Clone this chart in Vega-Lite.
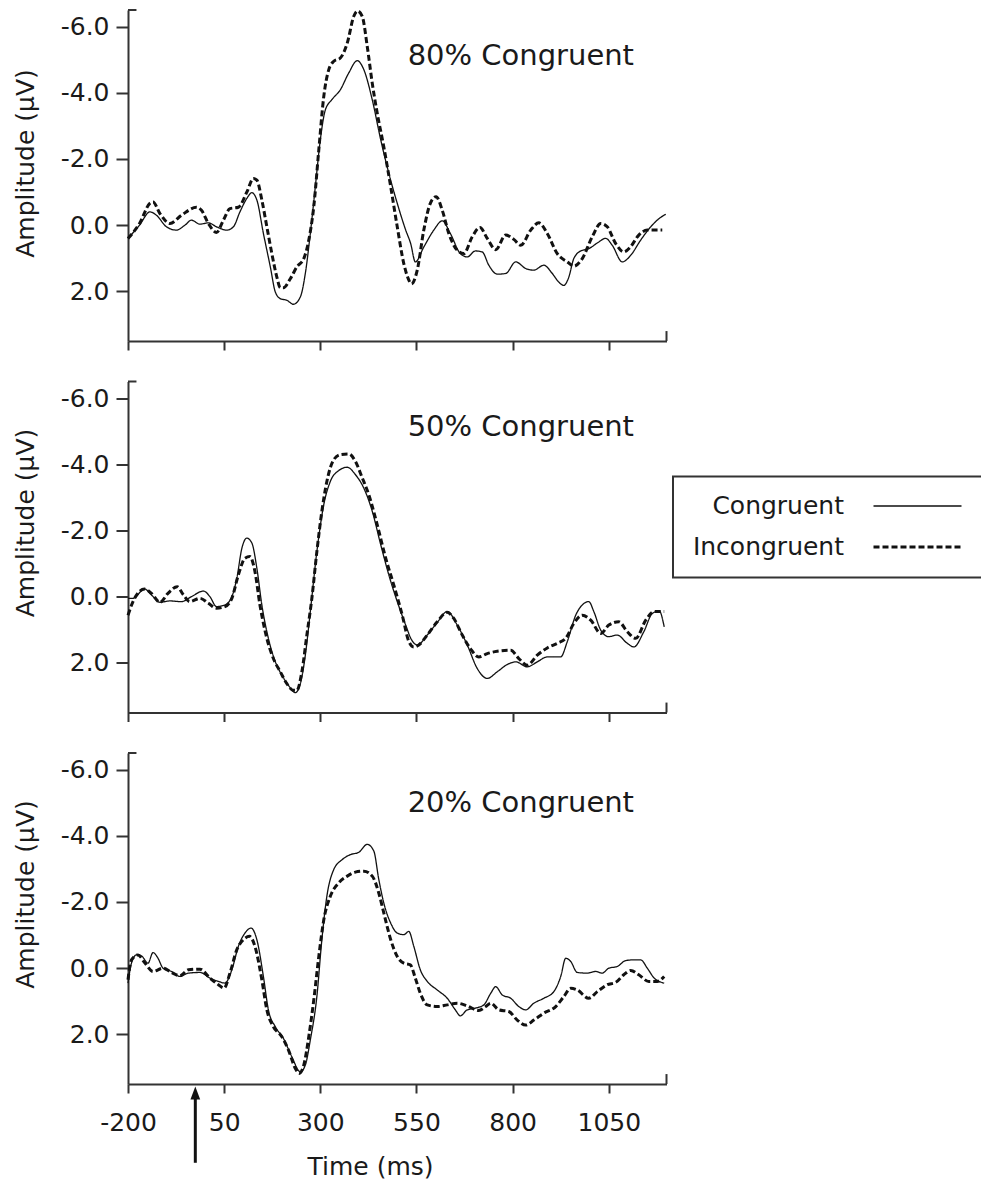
{
  "$schema": "https://vega.github.io/schema/vega-lite/v6.json",
  "padding": {"left": 13, "top": 4, "right": 2, "bottom": 4},
  "config": {
    "font": "DejaVu Sans",
    "view": {"stroke": null},
    "axis": {
      "grid": false,
      "domainColor": "#333",
      "domainWidth": 2,
      "tickColor": "#333",
      "tickWidth": 2,
      "labelFont": "DejaVu Sans",
      "labelFontSize": 25,
      "labelColor": "#1a1a1a",
      "labelFlush": false,
      "labelOverlap": false,
      "titleFont": "DejaVu Sans",
      "titleFontSize": 25,
      "titleFontWeight": "normal",
      "titleColor": "#1a1a1a"
    },
    "axisX": {"tickSize": 9, "labelPadding": 17, "titlePadding": 19},
    "axisY": {"tickSize": 12, "labelPadding": 7, "titlePadding": 22}
  },
  "data": {
    "values": [
      {"panel": "80%", "cond": "Incongruent", "t": -200, "v": 0.4},
      {"panel": "80%", "cond": "Incongruent", "t": -170, "v": -0.05},
      {"panel": "80%", "cond": "Incongruent", "t": -143, "v": -0.66},
      {"panel": "80%", "cond": "Incongruent", "t": -135, "v": -0.7},
      {"panel": "80%", "cond": "Incongruent", "t": -117, "v": -0.35},
      {"panel": "80%", "cond": "Incongruent", "t": -91, "v": -0.05},
      {"panel": "80%", "cond": "Incongruent", "t": -61, "v": -0.3},
      {"panel": "80%", "cond": "Incongruent", "t": -22, "v": -0.54},
      {"panel": "80%", "cond": "Incongruent", "t": -9, "v": -0.45},
      {"panel": "80%", "cond": "Incongruent", "t": 9, "v": -0.05},
      {"panel": "80%", "cond": "Incongruent", "t": 30, "v": 0.22},
      {"panel": "80%", "cond": "Incongruent", "t": 48, "v": -0.15},
      {"panel": "80%", "cond": "Incongruent", "t": 65, "v": -0.5},
      {"panel": "80%", "cond": "Incongruent", "t": 87, "v": -0.54},
      {"panel": "80%", "cond": "Incongruent", "t": 109, "v": -1.0},
      {"panel": "80%", "cond": "Incongruent", "t": 126, "v": -1.41},
      {"panel": "80%", "cond": "Incongruent", "t": 135, "v": -1.36},
      {"panel": "80%", "cond": "Incongruent", "t": 148, "v": -0.76},
      {"panel": "80%", "cond": "Incongruent", "t": 161, "v": 0.05},
      {"panel": "80%", "cond": "Incongruent", "t": 174, "v": 0.86},
      {"panel": "80%", "cond": "Incongruent", "t": 187, "v": 1.57},
      {"panel": "80%", "cond": "Incongruent", "t": 196, "v": 1.89},
      {"panel": "80%", "cond": "Incongruent", "t": 204, "v": 1.89},
      {"panel": "80%", "cond": "Incongruent", "t": 222, "v": 1.62},
      {"panel": "80%", "cond": "Incongruent", "t": 239, "v": 1.26},
      {"panel": "80%", "cond": "Incongruent", "t": 257, "v": 1.01},
      {"panel": "80%", "cond": "Incongruent", "t": 270, "v": 0.45},
      {"panel": "80%", "cond": "Incongruent", "t": 283, "v": -0.56},
      {"panel": "80%", "cond": "Incongruent", "t": 296, "v": -2.27},
      {"panel": "80%", "cond": "Incongruent", "t": 309, "v": -3.89},
      {"panel": "80%", "cond": "Incongruent", "t": 322, "v": -4.7},
      {"panel": "80%", "cond": "Incongruent", "t": 335, "v": -4.95},
      {"panel": "80%", "cond": "Incongruent", "t": 352, "v": -5.05},
      {"panel": "80%", "cond": "Incongruent", "t": 370, "v": -5.5},
      {"panel": "80%", "cond": "Incongruent", "t": 387, "v": -6.31},
      {"panel": "80%", "cond": "Incongruent", "t": 397, "v": -6.47},
      {"panel": "80%", "cond": "Incongruent", "t": 409, "v": -6.31},
      {"panel": "80%", "cond": "Incongruent", "t": 422, "v": -5.4},
      {"panel": "80%", "cond": "Incongruent", "t": 435, "v": -4.29},
      {"panel": "80%", "cond": "Incongruent", "t": 448, "v": -3.38},
      {"panel": "80%", "cond": "Incongruent", "t": 465, "v": -2.37},
      {"panel": "80%", "cond": "Incongruent", "t": 483, "v": -1.16},
      {"panel": "80%", "cond": "Incongruent", "t": 500, "v": 0.05},
      {"panel": "80%", "cond": "Incongruent", "t": 517, "v": 1.16},
      {"panel": "80%", "cond": "Incongruent", "t": 528, "v": 1.6},
      {"panel": "80%", "cond": "Incongruent", "t": 537, "v": 1.77},
      {"panel": "80%", "cond": "Incongruent", "t": 552, "v": 1.36},
      {"panel": "80%", "cond": "Incongruent", "t": 569, "v": 0.15},
      {"panel": "80%", "cond": "Incongruent", "t": 586, "v": -0.66},
      {"panel": "80%", "cond": "Incongruent", "t": 601, "v": -0.86},
      {"panel": "80%", "cond": "Incongruent", "t": 617, "v": -0.45},
      {"panel": "80%", "cond": "Incongruent", "t": 634, "v": 0.25},
      {"panel": "80%", "cond": "Incongruent", "t": 656, "v": 0.76},
      {"panel": "80%", "cond": "Incongruent", "t": 673, "v": 0.86},
      {"panel": "80%", "cond": "Incongruent", "t": 695, "v": 0.35},
      {"panel": "80%", "cond": "Incongruent", "t": 715, "v": 0.07},
      {"panel": "80%", "cond": "Incongruent", "t": 734, "v": 0.4},
      {"panel": "80%", "cond": "Incongruent", "t": 756, "v": 0.74},
      {"panel": "80%", "cond": "Incongruent", "t": 782, "v": 0.3},
      {"panel": "80%", "cond": "Incongruent", "t": 803, "v": 0.43},
      {"panel": "80%", "cond": "Incongruent", "t": 821, "v": 0.61},
      {"panel": "80%", "cond": "Incongruent", "t": 847, "v": 0.15},
      {"panel": "80%", "cond": "Incongruent", "t": 868, "v": -0.07},
      {"panel": "80%", "cond": "Incongruent", "t": 890, "v": 0.25},
      {"panel": "80%", "cond": "Incongruent", "t": 916, "v": 0.86},
      {"panel": "80%", "cond": "Incongruent", "t": 942, "v": 1.11},
      {"panel": "80%", "cond": "Incongruent", "t": 959, "v": 1.24},
      {"panel": "80%", "cond": "Incongruent", "t": 981, "v": 1.01},
      {"panel": "80%", "cond": "Incongruent", "t": 1007, "v": 0.35},
      {"panel": "80%", "cond": "Incongruent", "t": 1029, "v": -0.05},
      {"panel": "80%", "cond": "Incongruent", "t": 1046, "v": 0.05},
      {"panel": "80%", "cond": "Incongruent", "t": 1068, "v": 0.56},
      {"panel": "80%", "cond": "Incongruent", "t": 1089, "v": 0.81},
      {"panel": "80%", "cond": "Incongruent", "t": 1106, "v": 0.66},
      {"panel": "80%", "cond": "Incongruent", "t": 1128, "v": 0.3},
      {"panel": "80%", "cond": "Incongruent", "t": 1150, "v": 0.15},
      {"panel": "80%", "cond": "Incongruent", "t": 1172, "v": 0.15},
      {"panel": "80%", "cond": "Incongruent", "t": 1189, "v": 0.15},
      {"panel": "80%", "cond": "Congruent", "t": -200, "v": 0.4},
      {"panel": "80%", "cond": "Congruent", "t": -170, "v": 0},
      {"panel": "80%", "cond": "Congruent", "t": -143, "v": -0.4},
      {"panel": "80%", "cond": "Congruent", "t": -126, "v": -0.3},
      {"panel": "80%", "cond": "Congruent", "t": -100, "v": 0.05},
      {"panel": "80%", "cond": "Congruent", "t": -74, "v": 0.15},
      {"panel": "80%", "cond": "Congruent", "t": -52, "v": 0},
      {"panel": "80%", "cond": "Congruent", "t": -35, "v": -0.15},
      {"panel": "80%", "cond": "Congruent", "t": -13, "v": -0.03},
      {"panel": "80%", "cond": "Congruent", "t": 9, "v": -0.07},
      {"panel": "80%", "cond": "Congruent", "t": 30, "v": 0.05},
      {"panel": "80%", "cond": "Congruent", "t": 57, "v": 0.15},
      {"panel": "80%", "cond": "Congruent", "t": 74, "v": 0.05},
      {"panel": "80%", "cond": "Congruent", "t": 91, "v": -0.4},
      {"panel": "80%", "cond": "Congruent", "t": 109, "v": -0.81},
      {"panel": "80%", "cond": "Congruent", "t": 122, "v": -0.98},
      {"panel": "80%", "cond": "Congruent", "t": 135, "v": -0.76},
      {"panel": "80%", "cond": "Congruent", "t": 152, "v": 0.25},
      {"panel": "80%", "cond": "Congruent", "t": 170, "v": 1.26},
      {"panel": "80%", "cond": "Congruent", "t": 183, "v": 2.02},
      {"panel": "80%", "cond": "Congruent", "t": 196, "v": 2.22},
      {"panel": "80%", "cond": "Congruent", "t": 213, "v": 2.27},
      {"panel": "80%", "cond": "Congruent", "t": 230, "v": 2.39},
      {"panel": "80%", "cond": "Congruent", "t": 248, "v": 2.17},
      {"panel": "80%", "cond": "Congruent", "t": 261, "v": 1.46},
      {"panel": "80%", "cond": "Congruent", "t": 274, "v": 0.25},
      {"panel": "80%", "cond": "Congruent", "t": 287, "v": -1.16},
      {"panel": "80%", "cond": "Congruent", "t": 300, "v": -2.58},
      {"panel": "80%", "cond": "Congruent", "t": 313, "v": -3.48},
      {"panel": "80%", "cond": "Congruent", "t": 330, "v": -3.79},
      {"panel": "80%", "cond": "Congruent", "t": 352, "v": -4.09},
      {"panel": "80%", "cond": "Congruent", "t": 374, "v": -4.6},
      {"panel": "80%", "cond": "Congruent", "t": 396, "v": -4.97},
      {"panel": "80%", "cond": "Congruent", "t": 413, "v": -4.7},
      {"panel": "80%", "cond": "Congruent", "t": 435, "v": -3.79},
      {"panel": "80%", "cond": "Congruent", "t": 457, "v": -2.58},
      {"panel": "80%", "cond": "Congruent", "t": 478, "v": -1.57},
      {"panel": "80%", "cond": "Congruent", "t": 500, "v": -0.66},
      {"panel": "80%", "cond": "Congruent", "t": 522, "v": 0.15},
      {"panel": "80%", "cond": "Congruent", "t": 535, "v": 0.56},
      {"panel": "80%", "cond": "Congruent", "t": 547, "v": 1.11},
      {"panel": "80%", "cond": "Congruent", "t": 569, "v": 0.66},
      {"panel": "80%", "cond": "Congruent", "t": 595, "v": 0.15},
      {"panel": "80%", "cond": "Congruent", "t": 617, "v": -0.13},
      {"panel": "80%", "cond": "Congruent", "t": 638, "v": 0.25},
      {"panel": "80%", "cond": "Congruent", "t": 664, "v": 0.86},
      {"panel": "80%", "cond": "Congruent", "t": 682, "v": 0.96},
      {"panel": "80%", "cond": "Congruent", "t": 703, "v": 0.78},
      {"panel": "80%", "cond": "Congruent", "t": 721, "v": 0.81},
      {"panel": "80%", "cond": "Congruent", "t": 738, "v": 1.21},
      {"panel": "80%", "cond": "Congruent", "t": 760, "v": 1.48},
      {"panel": "80%", "cond": "Congruent", "t": 782, "v": 1.46},
      {"panel": "80%", "cond": "Congruent", "t": 808, "v": 1.11},
      {"panel": "80%", "cond": "Congruent", "t": 834, "v": 1.31},
      {"panel": "80%", "cond": "Congruent", "t": 855, "v": 1.36},
      {"panel": "80%", "cond": "Congruent", "t": 881, "v": 1.21},
      {"panel": "80%", "cond": "Congruent", "t": 903, "v": 1.46},
      {"panel": "80%", "cond": "Congruent", "t": 920, "v": 1.72},
      {"panel": "80%", "cond": "Congruent", "t": 933, "v": 1.82},
      {"panel": "80%", "cond": "Congruent", "t": 946, "v": 1.57},
      {"panel": "80%", "cond": "Congruent", "t": 959, "v": 1.01},
      {"panel": "80%", "cond": "Congruent", "t": 977, "v": 0.78},
      {"panel": "80%", "cond": "Congruent", "t": 998, "v": 0.71},
      {"panel": "80%", "cond": "Congruent", "t": 1020, "v": 0.54},
      {"panel": "80%", "cond": "Congruent", "t": 1042, "v": 0.4},
      {"panel": "80%", "cond": "Congruent", "t": 1059, "v": 0.61},
      {"panel": "80%", "cond": "Congruent", "t": 1085, "v": 1.11},
      {"panel": "80%", "cond": "Congruent", "t": 1107, "v": 0.91},
      {"panel": "80%", "cond": "Congruent", "t": 1133, "v": 0.45},
      {"panel": "80%", "cond": "Congruent", "t": 1159, "v": 0.05},
      {"panel": "80%", "cond": "Congruent", "t": 1181, "v": -0.2},
      {"panel": "80%", "cond": "Congruent", "t": 1198, "v": -0.33},
      {"panel": "50%", "cond": "Incongruent", "t": -200, "v": 0.56},
      {"panel": "50%", "cond": "Incongruent", "t": -187, "v": 0.15},
      {"panel": "50%", "cond": "Incongruent", "t": -157, "v": -0.23},
      {"panel": "50%", "cond": "Incongruent", "t": -139, "v": -0.1},
      {"panel": "50%", "cond": "Incongruent", "t": -117, "v": 0.17},
      {"panel": "50%", "cond": "Incongruent", "t": -96, "v": -0.1},
      {"panel": "50%", "cond": "Incongruent", "t": -72, "v": -0.3},
      {"panel": "50%", "cond": "Incongruent", "t": -57, "v": -0.07},
      {"panel": "50%", "cond": "Incongruent", "t": -39, "v": 0.15},
      {"panel": "50%", "cond": "Incongruent", "t": -13, "v": 0.05},
      {"panel": "50%", "cond": "Incongruent", "t": 9, "v": 0.2},
      {"panel": "50%", "cond": "Incongruent", "t": 30, "v": 0.35},
      {"panel": "50%", "cond": "Incongruent", "t": 52, "v": 0.3},
      {"panel": "50%", "cond": "Incongruent", "t": 70, "v": 0.05},
      {"panel": "50%", "cond": "Incongruent", "t": 87, "v": -0.66},
      {"panel": "50%", "cond": "Incongruent", "t": 104, "v": -1.16},
      {"panel": "50%", "cond": "Incongruent", "t": 117, "v": -1.21},
      {"panel": "50%", "cond": "Incongruent", "t": 130, "v": -0.76},
      {"panel": "50%", "cond": "Incongruent", "t": 143, "v": 0.25},
      {"panel": "50%", "cond": "Incongruent", "t": 161, "v": 1.26},
      {"panel": "50%", "cond": "Incongruent", "t": 178, "v": 1.87},
      {"panel": "50%", "cond": "Incongruent", "t": 196, "v": 2.27},
      {"panel": "50%", "cond": "Incongruent", "t": 213, "v": 2.63},
      {"panel": "50%", "cond": "Incongruent", "t": 230, "v": 2.83},
      {"panel": "50%", "cond": "Incongruent", "t": 239, "v": 2.83},
      {"panel": "50%", "cond": "Incongruent", "t": 252, "v": 2.27},
      {"panel": "50%", "cond": "Incongruent", "t": 265, "v": 1.16},
      {"panel": "50%", "cond": "Incongruent", "t": 278, "v": 0.05},
      {"panel": "50%", "cond": "Incongruent", "t": 291, "v": -1.36},
      {"panel": "50%", "cond": "Incongruent", "t": 304, "v": -2.58},
      {"panel": "50%", "cond": "Incongruent", "t": 317, "v": -3.48},
      {"panel": "50%", "cond": "Incongruent", "t": 335, "v": -4.14},
      {"panel": "50%", "cond": "Incongruent", "t": 352, "v": -4.29},
      {"panel": "50%", "cond": "Incongruent", "t": 374, "v": -4.31},
      {"panel": "50%", "cond": "Incongruent", "t": 391, "v": -4.09},
      {"panel": "50%", "cond": "Incongruent", "t": 409, "v": -3.59},
      {"panel": "50%", "cond": "Incongruent", "t": 426, "v": -3.08},
      {"panel": "50%", "cond": "Incongruent", "t": 448, "v": -2.17},
      {"panel": "50%", "cond": "Incongruent", "t": 470, "v": -1.16},
      {"panel": "50%", "cond": "Incongruent", "t": 491, "v": -0.35},
      {"panel": "50%", "cond": "Incongruent", "t": 513, "v": 0.56},
      {"panel": "50%", "cond": "Incongruent", "t": 530, "v": 1.35},
      {"panel": "50%", "cond": "Incongruent", "t": 543, "v": 1.52},
      {"panel": "50%", "cond": "Incongruent", "t": 556, "v": 1.46},
      {"panel": "50%", "cond": "Incongruent", "t": 578, "v": 1.16},
      {"panel": "50%", "cond": "Incongruent", "t": 604, "v": 0.76},
      {"panel": "50%", "cond": "Incongruent", "t": 630, "v": 0.47},
      {"panel": "50%", "cond": "Incongruent", "t": 647, "v": 0.66},
      {"panel": "50%", "cond": "Incongruent", "t": 669, "v": 1.16},
      {"panel": "50%", "cond": "Incongruent", "t": 690, "v": 1.57},
      {"panel": "50%", "cond": "Incongruent", "t": 712, "v": 1.82},
      {"panel": "50%", "cond": "Incongruent", "t": 734, "v": 1.72},
      {"panel": "50%", "cond": "Incongruent", "t": 760, "v": 1.65},
      {"panel": "50%", "cond": "Incongruent", "t": 795, "v": 1.62},
      {"panel": "50%", "cond": "Incongruent", "t": 816, "v": 1.87},
      {"panel": "50%", "cond": "Incongruent", "t": 838, "v": 2.07},
      {"panel": "50%", "cond": "Incongruent", "t": 864, "v": 1.77},
      {"panel": "50%", "cond": "Incongruent", "t": 890, "v": 1.55},
      {"panel": "50%", "cond": "Incongruent", "t": 916, "v": 1.41},
      {"panel": "50%", "cond": "Incongruent", "t": 938, "v": 1.26},
      {"panel": "50%", "cond": "Incongruent", "t": 959, "v": 0.81},
      {"panel": "50%", "cond": "Incongruent", "t": 981, "v": 0.56},
      {"panel": "50%", "cond": "Incongruent", "t": 1003, "v": 0.71},
      {"panel": "50%", "cond": "Incongruent", "t": 1029, "v": 1.11},
      {"panel": "50%", "cond": "Incongruent", "t": 1050, "v": 0.86},
      {"panel": "50%", "cond": "Incongruent", "t": 1076, "v": 0.76},
      {"panel": "50%", "cond": "Incongruent", "t": 1098, "v": 1.06},
      {"panel": "50%", "cond": "Incongruent", "t": 1120, "v": 1.26},
      {"panel": "50%", "cond": "Incongruent", "t": 1146, "v": 0.71},
      {"panel": "50%", "cond": "Incongruent", "t": 1168, "v": 0.45},
      {"panel": "50%", "cond": "Incongruent", "t": 1194, "v": 0.45},
      {"panel": "50%", "cond": "Congruent", "t": -200, "v": 0.05},
      {"panel": "50%", "cond": "Congruent", "t": -187, "v": 0.05},
      {"panel": "50%", "cond": "Congruent", "t": -157, "v": -0.23},
      {"panel": "50%", "cond": "Congruent", "t": -139, "v": -0.05},
      {"panel": "50%", "cond": "Congruent", "t": -117, "v": 0.17},
      {"panel": "50%", "cond": "Congruent", "t": -91, "v": 0.13},
      {"panel": "50%", "cond": "Congruent", "t": -61, "v": 0.15},
      {"panel": "50%", "cond": "Congruent", "t": -35, "v": 0},
      {"panel": "50%", "cond": "Congruent", "t": -4, "v": -0.17},
      {"panel": "50%", "cond": "Congruent", "t": 13, "v": 0},
      {"panel": "50%", "cond": "Congruent", "t": 30, "v": 0.3},
      {"panel": "50%", "cond": "Congruent", "t": 52, "v": 0.25},
      {"panel": "50%", "cond": "Congruent", "t": 70, "v": 0},
      {"panel": "50%", "cond": "Congruent", "t": 83, "v": -0.56},
      {"panel": "50%", "cond": "Congruent", "t": 96, "v": -1.46},
      {"panel": "50%", "cond": "Congruent", "t": 109, "v": -1.77},
      {"panel": "50%", "cond": "Congruent", "t": 122, "v": -1.62},
      {"panel": "50%", "cond": "Congruent", "t": 135, "v": -0.86},
      {"panel": "50%", "cond": "Congruent", "t": 148, "v": 0.25},
      {"panel": "50%", "cond": "Congruent", "t": 165, "v": 1.26},
      {"panel": "50%", "cond": "Congruent", "t": 183, "v": 1.97},
      {"panel": "50%", "cond": "Congruent", "t": 200, "v": 2.37},
      {"panel": "50%", "cond": "Congruent", "t": 217, "v": 2.68},
      {"panel": "50%", "cond": "Congruent", "t": 235, "v": 2.9},
      {"panel": "50%", "cond": "Congruent", "t": 248, "v": 2.63},
      {"panel": "50%", "cond": "Congruent", "t": 261, "v": 1.77},
      {"panel": "50%", "cond": "Congruent", "t": 274, "v": 0.45},
      {"panel": "50%", "cond": "Congruent", "t": 291, "v": -1.36},
      {"panel": "50%", "cond": "Congruent", "t": 309, "v": -2.78},
      {"panel": "50%", "cond": "Congruent", "t": 326, "v": -3.48},
      {"panel": "50%", "cond": "Congruent", "t": 348, "v": -3.81},
      {"panel": "50%", "cond": "Congruent", "t": 370, "v": -3.91},
      {"panel": "50%", "cond": "Congruent", "t": 391, "v": -3.69},
      {"panel": "50%", "cond": "Congruent", "t": 413, "v": -3.28},
      {"panel": "50%", "cond": "Congruent", "t": 435, "v": -2.58},
      {"panel": "50%", "cond": "Congruent", "t": 457, "v": -1.57},
      {"panel": "50%", "cond": "Congruent", "t": 478, "v": -0.66},
      {"panel": "50%", "cond": "Congruent", "t": 500, "v": 0.15},
      {"panel": "50%", "cond": "Congruent", "t": 522, "v": 0.86},
      {"panel": "50%", "cond": "Congruent", "t": 537, "v": 1.3},
      {"panel": "50%", "cond": "Congruent", "t": 552, "v": 1.46},
      {"panel": "50%", "cond": "Congruent", "t": 578, "v": 1.16},
      {"panel": "50%", "cond": "Congruent", "t": 604, "v": 0.78},
      {"panel": "50%", "cond": "Congruent", "t": 630, "v": 0.45},
      {"panel": "50%", "cond": "Congruent", "t": 656, "v": 0.86},
      {"panel": "50%", "cond": "Congruent", "t": 682, "v": 1.46},
      {"panel": "50%", "cond": "Congruent", "t": 708, "v": 2.17},
      {"panel": "50%", "cond": "Congruent", "t": 734, "v": 2.47},
      {"panel": "50%", "cond": "Congruent", "t": 760, "v": 2.27},
      {"panel": "50%", "cond": "Congruent", "t": 786, "v": 2.05},
      {"panel": "50%", "cond": "Congruent", "t": 808, "v": 1.97},
      {"panel": "50%", "cond": "Congruent", "t": 838, "v": 2.12},
      {"panel": "50%", "cond": "Congruent", "t": 864, "v": 1.97},
      {"panel": "50%", "cond": "Congruent", "t": 890, "v": 1.82},
      {"panel": "50%", "cond": "Congruent", "t": 925, "v": 1.82},
      {"panel": "50%", "cond": "Congruent", "t": 942, "v": 1.36},
      {"panel": "50%", "cond": "Congruent", "t": 964, "v": 0.56},
      {"panel": "50%", "cond": "Congruent", "t": 981, "v": 0.25},
      {"panel": "50%", "cond": "Congruent", "t": 998, "v": 0.15},
      {"panel": "50%", "cond": "Congruent", "t": 1011, "v": 0.45},
      {"panel": "50%", "cond": "Congruent", "t": 1029, "v": 1.01},
      {"panel": "50%", "cond": "Congruent", "t": 1050, "v": 1.21},
      {"panel": "50%", "cond": "Congruent", "t": 1072, "v": 1.16},
      {"panel": "50%", "cond": "Congruent", "t": 1098, "v": 1.41},
      {"panel": "50%", "cond": "Congruent", "t": 1115, "v": 1.52},
      {"panel": "50%", "cond": "Congruent", "t": 1141, "v": 1.06},
      {"panel": "50%", "cond": "Congruent", "t": 1163, "v": 0.51},
      {"panel": "50%", "cond": "Congruent", "t": 1181, "v": 0.43},
      {"panel": "50%", "cond": "Congruent", "t": 1194, "v": 0.91},
      {"panel": "20%", "cond": "Incongruent", "t": -200, "v": 0.35},
      {"panel": "20%", "cond": "Incongruent", "t": -191, "v": -0.25},
      {"panel": "20%", "cond": "Incongruent", "t": -174, "v": -0.4},
      {"panel": "20%", "cond": "Incongruent", "t": -157, "v": -0.17},
      {"panel": "20%", "cond": "Incongruent", "t": -135, "v": 0.1},
      {"panel": "20%", "cond": "Incongruent", "t": -109, "v": 0},
      {"panel": "20%", "cond": "Incongruent", "t": -87, "v": 0.13},
      {"panel": "20%", "cond": "Incongruent", "t": -65, "v": 0.23},
      {"panel": "20%", "cond": "Incongruent", "t": -43, "v": 0.05},
      {"panel": "20%", "cond": "Incongruent", "t": -13, "v": 0.03},
      {"panel": "20%", "cond": "Incongruent", "t": 13, "v": 0.3},
      {"panel": "20%", "cond": "Incongruent", "t": 35, "v": 0.5},
      {"panel": "20%", "cond": "Incongruent", "t": 50, "v": 0.6},
      {"panel": "20%", "cond": "Incongruent", "t": 65, "v": 0.15},
      {"panel": "20%", "cond": "Incongruent", "t": 83, "v": -0.56},
      {"panel": "20%", "cond": "Incongruent", "t": 100, "v": -0.86},
      {"panel": "20%", "cond": "Incongruent", "t": 116, "v": -0.96},
      {"panel": "20%", "cond": "Incongruent", "t": 130, "v": -0.66},
      {"panel": "20%", "cond": "Incongruent", "t": 148, "v": 0.35},
      {"panel": "20%", "cond": "Incongruent", "t": 161, "v": 1.26},
      {"panel": "20%", "cond": "Incongruent", "t": 178, "v": 1.77},
      {"panel": "20%", "cond": "Incongruent", "t": 200, "v": 2.07},
      {"panel": "20%", "cond": "Incongruent", "t": 217, "v": 2.47},
      {"panel": "20%", "cond": "Incongruent", "t": 235, "v": 3.03},
      {"panel": "20%", "cond": "Incongruent", "t": 245, "v": 3.18},
      {"panel": "20%", "cond": "Incongruent", "t": 257, "v": 2.93},
      {"panel": "20%", "cond": "Incongruent", "t": 270, "v": 2.07},
      {"panel": "20%", "cond": "Incongruent", "t": 283, "v": 0.96},
      {"panel": "20%", "cond": "Incongruent", "t": 296, "v": -0.35},
      {"panel": "20%", "cond": "Incongruent", "t": 309, "v": -1.46},
      {"panel": "20%", "cond": "Incongruent", "t": 326, "v": -2.17},
      {"panel": "20%", "cond": "Incongruent", "t": 348, "v": -2.58},
      {"panel": "20%", "cond": "Incongruent", "t": 370, "v": -2.78},
      {"panel": "20%", "cond": "Incongruent", "t": 391, "v": -2.9},
      {"panel": "20%", "cond": "Incongruent", "t": 413, "v": -2.93},
      {"panel": "20%", "cond": "Incongruent", "t": 435, "v": -2.78},
      {"panel": "20%", "cond": "Incongruent", "t": 452, "v": -2.27},
      {"panel": "20%", "cond": "Incongruent", "t": 465, "v": -1.67},
      {"panel": "20%", "cond": "Incongruent", "t": 483, "v": -0.86},
      {"panel": "20%", "cond": "Incongruent", "t": 500, "v": -0.35},
      {"panel": "20%", "cond": "Incongruent", "t": 517, "v": -0.15},
      {"panel": "20%", "cond": "Incongruent", "t": 534, "v": -0.1},
      {"panel": "20%", "cond": "Incongruent", "t": 547, "v": 0.3},
      {"panel": "20%", "cond": "Incongruent", "t": 560, "v": 0.76},
      {"panel": "20%", "cond": "Incongruent", "t": 578, "v": 1.11},
      {"panel": "20%", "cond": "Incongruent", "t": 604, "v": 1.16},
      {"panel": "20%", "cond": "Incongruent", "t": 630, "v": 1.11},
      {"panel": "20%", "cond": "Incongruent", "t": 656, "v": 1.06},
      {"panel": "20%", "cond": "Incongruent", "t": 682, "v": 1.14},
      {"panel": "20%", "cond": "Incongruent", "t": 712, "v": 1.28},
      {"panel": "20%", "cond": "Incongruent", "t": 730, "v": 1.16},
      {"panel": "20%", "cond": "Incongruent", "t": 743, "v": 1.06},
      {"panel": "20%", "cond": "Incongruent", "t": 764, "v": 1.26},
      {"panel": "20%", "cond": "Incongruent", "t": 790, "v": 1.31},
      {"panel": "20%", "cond": "Incongruent", "t": 812, "v": 1.57},
      {"panel": "20%", "cond": "Incongruent", "t": 834, "v": 1.72},
      {"panel": "20%", "cond": "Incongruent", "t": 855, "v": 1.57},
      {"panel": "20%", "cond": "Incongruent", "t": 881, "v": 1.36},
      {"panel": "20%", "cond": "Incongruent", "t": 912, "v": 1.16},
      {"panel": "20%", "cond": "Incongruent", "t": 933, "v": 0.86},
      {"panel": "20%", "cond": "Incongruent", "t": 951, "v": 0.61},
      {"panel": "20%", "cond": "Incongruent", "t": 968, "v": 0.66},
      {"panel": "20%", "cond": "Incongruent", "t": 998, "v": 0.91},
      {"panel": "20%", "cond": "Incongruent", "t": 1020, "v": 0.71},
      {"panel": "20%", "cond": "Incongruent", "t": 1046, "v": 0.5},
      {"panel": "20%", "cond": "Incongruent", "t": 1068, "v": 0.43},
      {"panel": "20%", "cond": "Incongruent", "t": 1089, "v": 0.2},
      {"panel": "20%", "cond": "Incongruent", "t": 1107, "v": 0.07},
      {"panel": "20%", "cond": "Incongruent", "t": 1128, "v": 0.2},
      {"panel": "20%", "cond": "Incongruent", "t": 1154, "v": 0.4},
      {"panel": "20%", "cond": "Incongruent", "t": 1176, "v": 0.4},
      {"panel": "20%", "cond": "Incongruent", "t": 1194, "v": 0.25},
      {"panel": "20%", "cond": "Congruent", "t": -200, "v": 0.45},
      {"panel": "20%", "cond": "Congruent", "t": -191, "v": -0.15},
      {"panel": "20%", "cond": "Congruent", "t": -178, "v": -0.4},
      {"panel": "20%", "cond": "Congruent", "t": -165, "v": -0.37},
      {"panel": "20%", "cond": "Congruent", "t": -148, "v": -0.15},
      {"panel": "20%", "cond": "Congruent", "t": -135, "v": -0.47},
      {"panel": "20%", "cond": "Congruent", "t": -122, "v": -0.3},
      {"panel": "20%", "cond": "Congruent", "t": -109, "v": 0},
      {"panel": "20%", "cond": "Congruent", "t": -87, "v": 0.1},
      {"panel": "20%", "cond": "Congruent", "t": -65, "v": 0.25},
      {"panel": "20%", "cond": "Congruent", "t": -43, "v": 0.15},
      {"panel": "20%", "cond": "Congruent", "t": -13, "v": 0.13},
      {"panel": "20%", "cond": "Congruent", "t": 13, "v": 0.3},
      {"panel": "20%", "cond": "Congruent", "t": 35, "v": 0.4},
      {"panel": "20%", "cond": "Congruent", "t": 52, "v": 0.45},
      {"panel": "20%", "cond": "Congruent", "t": 70, "v": 0.05},
      {"panel": "20%", "cond": "Congruent", "t": 87, "v": -0.66},
      {"panel": "20%", "cond": "Congruent", "t": 104, "v": -1.06},
      {"panel": "20%", "cond": "Congruent", "t": 120, "v": -1.21},
      {"panel": "20%", "cond": "Congruent", "t": 135, "v": -0.86},
      {"panel": "20%", "cond": "Congruent", "t": 152, "v": 0.25},
      {"panel": "20%", "cond": "Congruent", "t": 165, "v": 1.26},
      {"panel": "20%", "cond": "Congruent", "t": 183, "v": 1.77},
      {"panel": "20%", "cond": "Congruent", "t": 204, "v": 2.12},
      {"panel": "20%", "cond": "Congruent", "t": 226, "v": 2.68},
      {"panel": "20%", "cond": "Congruent", "t": 248, "v": 3.13},
      {"panel": "20%", "cond": "Congruent", "t": 261, "v": 2.93},
      {"panel": "20%", "cond": "Congruent", "t": 274, "v": 2.17},
      {"panel": "20%", "cond": "Congruent", "t": 291, "v": 0.86},
      {"panel": "20%", "cond": "Congruent", "t": 304, "v": -0.86},
      {"panel": "20%", "cond": "Congruent", "t": 317, "v": -2.17},
      {"panel": "20%", "cond": "Congruent", "t": 335, "v": -2.98},
      {"panel": "20%", "cond": "Congruent", "t": 357, "v": -3.28},
      {"panel": "20%", "cond": "Congruent", "t": 378, "v": -3.43},
      {"panel": "20%", "cond": "Congruent", "t": 400, "v": -3.5},
      {"panel": "20%", "cond": "Congruent", "t": 422, "v": -3.74},
      {"panel": "20%", "cond": "Congruent", "t": 439, "v": -3.54},
      {"panel": "20%", "cond": "Congruent", "t": 452, "v": -2.68},
      {"panel": "20%", "cond": "Congruent", "t": 465, "v": -1.97},
      {"panel": "20%", "cond": "Congruent", "t": 483, "v": -1.36},
      {"panel": "20%", "cond": "Congruent", "t": 500, "v": -1.06},
      {"panel": "20%", "cond": "Congruent", "t": 517, "v": -1.01},
      {"panel": "20%", "cond": "Congruent", "t": 530, "v": -1.11},
      {"panel": "20%", "cond": "Congruent", "t": 543, "v": -0.66},
      {"panel": "20%", "cond": "Congruent", "t": 560, "v": 0.05},
      {"panel": "20%", "cond": "Congruent", "t": 578, "v": 0.4},
      {"panel": "20%", "cond": "Congruent", "t": 604, "v": 0.66},
      {"panel": "20%", "cond": "Congruent", "t": 630, "v": 0.91},
      {"panel": "20%", "cond": "Congruent", "t": 651, "v": 1.26},
      {"panel": "20%", "cond": "Congruent", "t": 664, "v": 1.44},
      {"panel": "20%", "cond": "Congruent", "t": 682, "v": 1.26},
      {"panel": "20%", "cond": "Congruent", "t": 703, "v": 1.21},
      {"panel": "20%", "cond": "Congruent", "t": 725, "v": 1.11},
      {"panel": "20%", "cond": "Congruent", "t": 743, "v": 0.76},
      {"panel": "20%", "cond": "Congruent", "t": 756, "v": 0.56},
      {"panel": "20%", "cond": "Congruent", "t": 773, "v": 0.81},
      {"panel": "20%", "cond": "Congruent", "t": 795, "v": 0.91},
      {"panel": "20%", "cond": "Congruent", "t": 816, "v": 1.16},
      {"panel": "20%", "cond": "Congruent", "t": 834, "v": 1.26},
      {"panel": "20%", "cond": "Congruent", "t": 855, "v": 1.06},
      {"panel": "20%", "cond": "Congruent", "t": 881, "v": 0.91},
      {"panel": "20%", "cond": "Congruent", "t": 907, "v": 0.71},
      {"panel": "20%", "cond": "Congruent", "t": 925, "v": 0.25},
      {"panel": "20%", "cond": "Congruent", "t": 938, "v": -0.3},
      {"panel": "20%", "cond": "Congruent", "t": 951, "v": -0.2},
      {"panel": "20%", "cond": "Congruent", "t": 968, "v": 0.13},
      {"panel": "20%", "cond": "Congruent", "t": 994, "v": 0.15},
      {"panel": "20%", "cond": "Congruent", "t": 1016, "v": 0.1},
      {"panel": "20%", "cond": "Congruent", "t": 1033, "v": 0.15},
      {"panel": "20%", "cond": "Congruent", "t": 1050, "v": 0},
      {"panel": "20%", "cond": "Congruent", "t": 1072, "v": -0.05},
      {"panel": "20%", "cond": "Congruent", "t": 1094, "v": -0.23},
      {"panel": "20%", "cond": "Congruent", "t": 1115, "v": -0.25},
      {"panel": "20%", "cond": "Congruent", "t": 1133, "v": -0.25},
      {"panel": "20%", "cond": "Congruent", "t": 1150, "v": 0},
      {"panel": "20%", "cond": "Congruent", "t": 1168, "v": 0.3},
      {"panel": "20%", "cond": "Congruent", "t": 1194, "v": 0.45}
    ]
  },
  "spacing": 40.5,
  "bounds": "flush",
  "vconcat": [
    {
      "width": 538.5,
      "height": 331,
      "layer": [
        {
          "transform": [{"filter": "datum.panel === '80%'"}],
          "mark": {"type": "line", "interpolate": "monotone", "color": "#111"},
          "encoding": {
            "x": {"field": "t", "type": "quantitative",
              "scale": {"domain": [-200, 1200], "nice": false, "zero": false},
              "axis": {"values": [-200, 50, 300, 550, 800, 1050], "labels": false, "title": null}},
            "y": {"field": "v", "type": "quantitative", "title": "Amplitude (µV)",
              "scale": {"domain": [-6.5, 3.5], "reverse": true, "nice": false, "zero": false},
              "axis": {"values": [-6, -5, -4, -3, -2, -1, 0, 1, 2, 3], "titleY": 153,
                "labelExpr": "datum.value % 2 == 0 ? (datum.value < 0 ? '-' : '') + format(abs(datum.value), '.1f') : ''"}},
            "strokeDash": {"field": "cond", "type": "nominal",
              "scale": {"domain": ["Congruent", "Incongruent"], "range": [[1, 0], [6, 3]]},
              "legend": {"title": null, "orient": "none", "legendX": 545, "legendY": 466.5, "direction": "vertical",
                "symbolType": "M-4,0H4", "symbolSize": 484, "symbolStrokeColor": "#111",
                "symbolOffset": 215, "labelOffset": -86, "labelAlign": "right",
                "labelFont": "DejaVu Sans", "labelFontSize": 25, "labelColor": "#1a1a1a", "labelLimit": 300,
                "rowPadding": 15, "padding": 17, "strokeColor": "#333",
                "encode": {
                  "legend": {"update": {"strokeWidth": {"value": 2}}},
                  "symbols": {"update": {
                    "strokeWidth": {"signal": "datum.value === 'Incongruent' ? 3 : 1.3"},
                    "strokeDash": {"signal": "datum.value === 'Incongruent' ? [9, 4] : [1, 0]"}}}
                }}},
            "strokeWidth": {"condition": {"test": "datum.cond === 'Incongruent'", "value": 3}, "value": 1.3}
          }
        },
        {
          "data": {"values": [{}]},
          "mark": {"type": "text", "align": "left", "baseline": "alphabetic", "font": "DejaVu Sans", "fontSize": 29, "color": "#1a1a1a"},
          "encoding": {
            "x": {"datum": 527, "type": "quantitative"},
            "y": {"datum": -4.85, "type": "quantitative"},
            "text": {"value": "80% Congruent"}
          }
        },
        {
          "data": {"values": [{}]},
          "mark": {"type": "rule", "color": "#333", "strokeWidth": 2},
          "encoding": {
            "x": {"datum": -200, "type": "quantitative"},
            "x2": {"datum": -178},
            "y": {"datum": -6.5, "type": "quantitative"}
          }
        },
        {
          "data": {"values": [{}]},
          "mark": {"type": "rule", "color": "#333", "strokeWidth": 2},
          "encoding": {
            "x": {"datum": 1200, "type": "quantitative"},
            "y": {"datum": 3.5, "type": "quantitative"},
            "y2": {"datum": 3.2}
          }
        }
      ]
    },
    {
      "width": 538.5,
      "height": 331,
      "layer": [
        {
          "transform": [{"filter": "datum.panel === '50%'"}],
          "mark": {"type": "line", "interpolate": "monotone", "color": "#111"},
          "encoding": {
            "x": {"field": "t", "type": "quantitative",
              "scale": {"domain": [-200, 1200], "nice": false, "zero": false},
              "axis": {"values": [-200, 50, 300, 550, 800, 1050], "labels": false, "title": null}},
            "y": {"field": "v", "type": "quantitative", "title": "Amplitude (µV)",
              "scale": {"domain": [-6.5, 3.5], "reverse": true, "nice": false, "zero": false},
              "axis": {"values": [-6, -5, -4, -3, -2, -1, 0, 1, 2, 3], "titleY": 141,
                "labelExpr": "datum.value % 2 == 0 ? (datum.value < 0 ? '-' : '') + format(abs(datum.value), '.1f') : ''"}},
            "strokeDash": {"field": "cond", "type": "nominal",
              "scale": {"domain": ["Congruent", "Incongruent"], "range": [[1, 0], [6, 3]]},
              "legend": {"title": null, "orient": "none", "legendX": 545, "legendY": 466.5, "direction": "vertical",
                "symbolType": "M-4,0H4", "symbolSize": 484, "symbolStrokeColor": "#111",
                "symbolOffset": 215, "labelOffset": -86, "labelAlign": "right",
                "labelFont": "DejaVu Sans", "labelFontSize": 25, "labelColor": "#1a1a1a", "labelLimit": 300,
                "rowPadding": 15, "padding": 17, "strokeColor": "#333",
                "encode": {
                  "legend": {"update": {"strokeWidth": {"value": 2}}},
                  "symbols": {"update": {
                    "strokeWidth": {"signal": "datum.value === 'Incongruent' ? 3 : 1.3"},
                    "strokeDash": {"signal": "datum.value === 'Incongruent' ? [9, 4] : [1, 0]"}}}
                }}},
            "strokeWidth": {"condition": {"test": "datum.cond === 'Incongruent'", "value": 3}, "value": 1.3}
          }
        },
        {
          "data": {"values": [{}]},
          "mark": {"type": "text", "align": "left", "baseline": "alphabetic", "font": "DejaVu Sans", "fontSize": 29, "color": "#1a1a1a"},
          "encoding": {
            "x": {"datum": 527, "type": "quantitative"},
            "y": {"datum": -4.85, "type": "quantitative"},
            "text": {"value": "50% Congruent"}
          }
        },
        {
          "data": {"values": [{}]},
          "mark": {"type": "rule", "color": "#333", "strokeWidth": 2},
          "encoding": {
            "x": {"datum": -200, "type": "quantitative"},
            "x2": {"datum": -178},
            "y": {"datum": -6.5, "type": "quantitative"}
          }
        },
        {
          "data": {"values": [{}]},
          "mark": {"type": "rule", "color": "#333", "strokeWidth": 2},
          "encoding": {
            "x": {"datum": 1200, "type": "quantitative"},
            "y": {"datum": 3.5, "type": "quantitative"},
            "y2": {"datum": 3.2}
          }
        }
      ]
    },
    {
      "width": 538.5,
      "height": 331,
      "layer": [
        {
          "transform": [{"filter": "datum.panel === '20%'"}],
          "mark": {"type": "line", "interpolate": "monotone", "color": "#111"},
          "encoding": {
            "x": {"field": "t", "type": "quantitative", "title": "Time (ms)",
              "scale": {"domain": [-200, 1200], "nice": false, "zero": false},
              "axis": {"values": [-200, 50, 300, 550, 800, 1050], "titleX": 242,
                "labelExpr": "(datum.value < 0 ? '-' : '') + format(abs(datum.value), 'd')"}},
            "y": {"field": "v", "type": "quantitative", "title": "Amplitude (µV)",
              "scale": {"domain": [-6.5, 3.5], "reverse": true, "nice": false, "zero": false},
              "axis": {"values": [-6, -5, -4, -3, -2, -1, 0, 1, 2, 3], "titleY": 141,
                "labelExpr": "datum.value % 2 == 0 ? (datum.value < 0 ? '-' : '') + format(abs(datum.value), '.1f') : ''"}},
            "strokeDash": {"field": "cond", "type": "nominal",
              "scale": {"domain": ["Congruent", "Incongruent"], "range": [[1, 0], [6, 3]]},
              "legend": {"title": null, "orient": "none", "legendX": 545, "legendY": 466.5, "direction": "vertical",
                "symbolType": "M-4,0H4", "symbolSize": 484, "symbolStrokeColor": "#111",
                "symbolOffset": 215, "labelOffset": -86, "labelAlign": "right",
                "labelFont": "DejaVu Sans", "labelFontSize": 25, "labelColor": "#1a1a1a", "labelLimit": 300,
                "rowPadding": 15, "padding": 17, "strokeColor": "#333",
                "encode": {
                  "legend": {"update": {"strokeWidth": {"value": 2}}},
                  "symbols": {"update": {
                    "strokeWidth": {"signal": "datum.value === 'Incongruent' ? 3 : 1.3"},
                    "strokeDash": {"signal": "datum.value === 'Incongruent' ? [9, 4] : [1, 0]"}}}
                }}},
            "strokeWidth": {"condition": {"test": "datum.cond === 'Incongruent'", "value": 3}, "value": 1.3}
          }
        },
        {
          "data": {"values": [{}]},
          "mark": {"type": "text", "align": "left", "baseline": "alphabetic", "font": "DejaVu Sans", "fontSize": 29, "color": "#1a1a1a"},
          "encoding": {
            "x": {"datum": 527, "type": "quantitative"},
            "y": {"datum": -4.73, "type": "quantitative"},
            "text": {"value": "20% Congruent"}
          }
        },
        {
          "data": {"values": [{}]},
          "mark": {"type": "rule", "color": "#333", "strokeWidth": 2},
          "encoding": {
            "x": {"datum": -200, "type": "quantitative"},
            "x2": {"datum": -178},
            "y": {"datum": -6.5, "type": "quantitative"}
          }
        },
        {
          "data": {"values": [{}]},
          "mark": {"type": "rule", "color": "#333", "strokeWidth": 2},
          "encoding": {
            "x": {"datum": 1200, "type": "quantitative"},
            "y": {"datum": 3.5, "type": "quantitative"},
            "y2": {"datum": 3.2}
          }
        },
        {
          "data": {"values": [{}]},
          "mark": {"type": "rule", "color": "#111", "strokeWidth": 3},
          "encoding": {
            "x": {"datum": -25, "type": "quantitative"},
            "y": {"datum": 3.95, "type": "quantitative"},
            "y2": {"datum": 5.88}
          }
        },
        {
          "data": {"values": [{}]},
          "mark": {"type": "point", "shape": "M0,-1L0.75,1L-0.75,1Z", "size": 169, "filled": true, "color": "#111", "opacity": 1},
          "encoding": {
            "x": {"datum": -25, "type": "quantitative"},
            "y": {"datum": 3.77, "type": "quantitative"}
          }
        }
      ]
    }
  ]
}
